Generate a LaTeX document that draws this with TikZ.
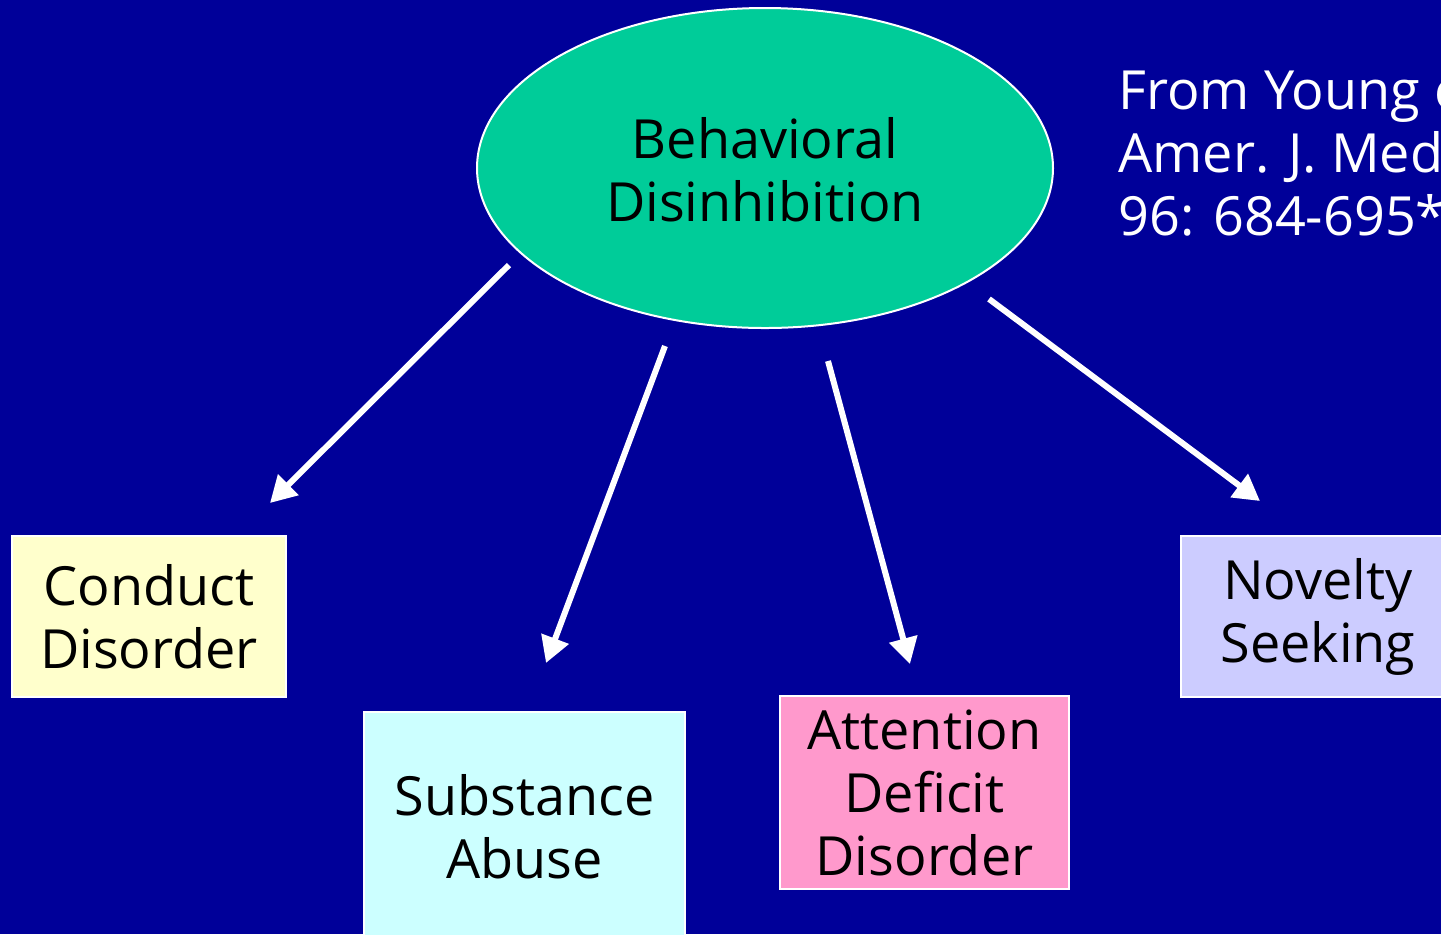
\documentclass[tikz,border=0pt]{standalone}
\usepackage{fontspec}
\setmainfont{Open Sans}
\usetikzlibrary{shapes.geometric,arrows.meta}
\definecolor{bgblue}{HTML}{000099}
\definecolor{ellgreen}{HTML}{00CC99}
\definecolor{cyellow}{HTML}{FFFFCC}
\definecolor{ccyan}{HTML}{CCFFFF}
\definecolor{cpink}{HTML}{FF99CC}
\definecolor{clav}{HTML}{CCCCFF}
\tikzset{
  lbl/.style={font=\fontsize{27}{31.5}\selectfont, align=center, text=black},
  boxnode/.style={lbl, draw=white, line width=1pt, inner sep=0pt, rectangle},
  arr/.style={draw=white, line width=3pt, -{Triangle[length=13pt,width=14pt]}},
}
\begin{document}
\begin{tikzpicture}[x=0.5pt,y=-0.5pt]
\useasboundingbox (0,0) rectangle (1441,934);
\clip (0,0) rectangle (1441,934);
\fill[bgblue] (0,0) rectangle (1441,934);
% central ellipse
\node[lbl, ellipse, fill=ellgreen, draw=white, line width=1pt, inner sep=0pt,
      minimum width=288pt, minimum height=160pt] (bd) at (765,168) {};
\node[lbl] (bdt) at (765,170) {Behavioral\\Disinhibition};
% citation (cut off at the right edge, as in the reference)
\node[lbl, text=white, align=left, anchor=west, inner sep=0pt] (cite) at (1118,152)
  {From Young et al.\\Amer. J. Med. Genet.\\96: 684-695*};
% boxes
\node[boxnode, fill=cyellow, minimum width=137pt, minimum height=80.5pt] (cd) at (149,616.5) {Conduct\\Disorder};
\node[boxnode, fill=ccyan, minimum width=160.5pt, minimum height=115pt] (sa) at (524.5,827) {Substance\\Abuse};
\node[boxnode, fill=cpink, minimum width=144.5pt, minimum height=96.5pt] (ad) at (924.5,792.5) {Attention\\Deficit\\Disorder};
\node[boxnode, fill=clav, minimum width=137pt, minimum height=80.5pt] (ns) at (1318,616.5) {Novelty\\Seeking};
% arrow end points
\coordinate (s1) at (509,265);
\coordinate (e1) at (270,503);
\coordinate (s2) at (665,346);
\coordinate (e2) at (546,663);
\coordinate (s3) at (828,361);
\coordinate (e3) at (910,664);
\coordinate (s4) at (989,299);
\coordinate (e4) at (1260,501);
\draw[arr] (s1) -- (e1);
\draw[arr] (s2) -- (e2);
\draw[arr] (s3) -- (e3);
\draw[arr] (s4) -- (e4);
\end{tikzpicture}
\end{document}
